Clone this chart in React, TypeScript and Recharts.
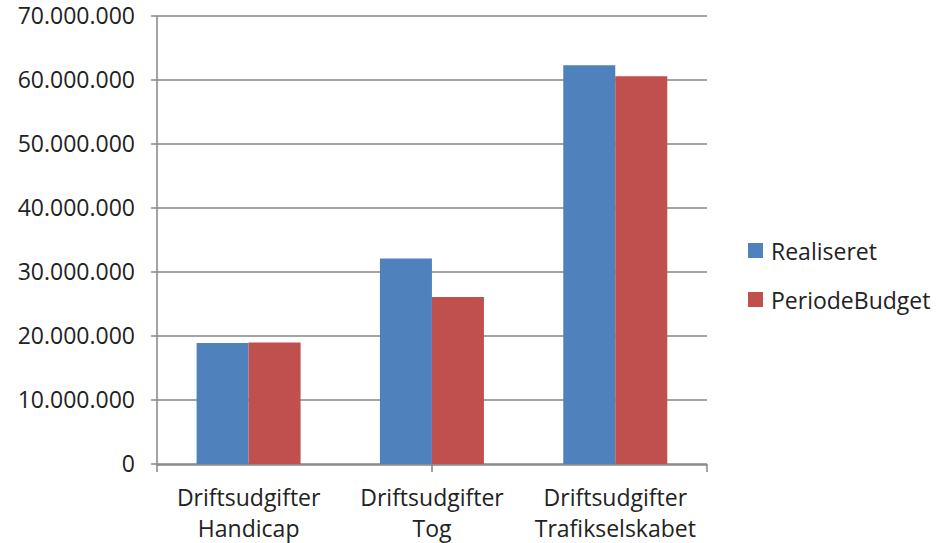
import { BarChart, Bar, XAxis, YAxis, CartesianGrid, Legend } from 'recharts';

const categories = ['Driftsudgifter Handicap', 'Driftsudgifter Tog', 'Driftsudgifter Trafikselskabet'];
const seriesNames = ['Realiseret', 'PeriodeBudget'];
const realiseret = [18900000, 32100000, 62300000];
const periodeBudget = [19000000, 26100000, 60600000];
const yTicks = [0, 10000000, 20000000, 30000000, 40000000, 50000000, 60000000, 70000000];
const edgeTicks = [0, 1, 2, 3];

const data = categories.map((name, i) => ({
    name,
    Realiseret: realiseret[i],
    PeriodeBudget: periodeBudget[i],
}));

const FONT = '"Open Sans", sans-serif';
const AXIS = '#868686';
const FS = 23;

const fmt = (v: number) => String(v).replace(/\B(?=(\d{3})+(?!\d))/g, '.');

const CatTick = (props: any) => {
    const { x, y, payload } = props;
    const parts = String(payload.value).split(' ');
    return (
        <text x={x} y={y} textAnchor="middle" fill="#222" fontSize={FS} fontFamily={FONT}>
            <tspan x={x} dy={33}>{parts[0]}</tspan>
            <tspan x={x} dy={31}>{parts[1]}</tspan>
        </text>
    );
};

const LegendBox = (props: any) => {
    const payload = [...(props.payload || [])].sort(
        (a: any, b: any) => seriesNames.indexOf(a.value) - seriesNames.indexOf(b.value)
    );
    return (
        <div style={{ fontFamily: FONT, fontSize: FS, color: '#222' }}>
            {payload.map((p: any) => (
                <div key={p.value} style={{ display: 'flex', alignItems: 'center', height: 49 }}>
                    <span style={{ width: 15, height: 15, background: p.color, marginRight: 8, display: 'inline-block' }} />
                    {p.value}
                </div>
            ))}
        </div>
    );
};

export default function App() {
    return (
        <div style={{ position: 'absolute', left: 0, top: 0, background: '#fff' }}>
            <BarChart
                width={950}
                height={543}
                data={data}
                margin={{ top: 16, right: 43, left: 0, bottom: 0 }}
                barCategoryGap="21.6%"
                barGap={0}
            >
                <CartesianGrid vertical={false} stroke={AXIS} strokeWidth={1.5} />
                {/* boundary tick marks between categories */}
                <XAxis
                    xAxisId={0}
                    type="number"
                    domain={[0, 3]}
                    allowDataOverflow
                    ticks={edgeTicks}
                    height={1}
                    axisLine={false}
                    tickSize={8}
                    tickLine={{ stroke: AXIS, strokeWidth: 1.5 }}
                    tick={() => <g />}
                />
                <XAxis
                    xAxisId="cat"
                    dataKey="name"
                    height={78}
                    tickLine={false}
                    axisLine={{ stroke: AXIS, strokeWidth: 1.5 }}
                    tick={<CatTick />}
                    interval={0}
                />
                <YAxis
                    width={157}
                    domain={[0, 70000000]}
                    ticks={yTicks}
                    tickFormatter={fmt}
                    tickSize={6}
                    tickMargin={16}
                    axisLine={{ stroke: AXIS, strokeWidth: 1.5 }}
                    tickLine={{ stroke: AXIS, strokeWidth: 1.5 }}
                    tick={{ fill: '#222', fontSize: FS, fontFamily: FONT }}
                />
                <Legend
                    layout="vertical"
                    align="right"
                    verticalAlign="top"
                    content={<LegendBox />}
                    wrapperStyle={{ top: 226, left: 748, width: 200 }}
                />
                <Bar xAxisId="cat" dataKey="Realiseret" fill="#4F81BD" isAnimationActive={false} />
                <Bar xAxisId="cat" dataKey="PeriodeBudget" fill="#C0504D" isAnimationActive={false} />
            </BarChart>
        </div>
    );
}
